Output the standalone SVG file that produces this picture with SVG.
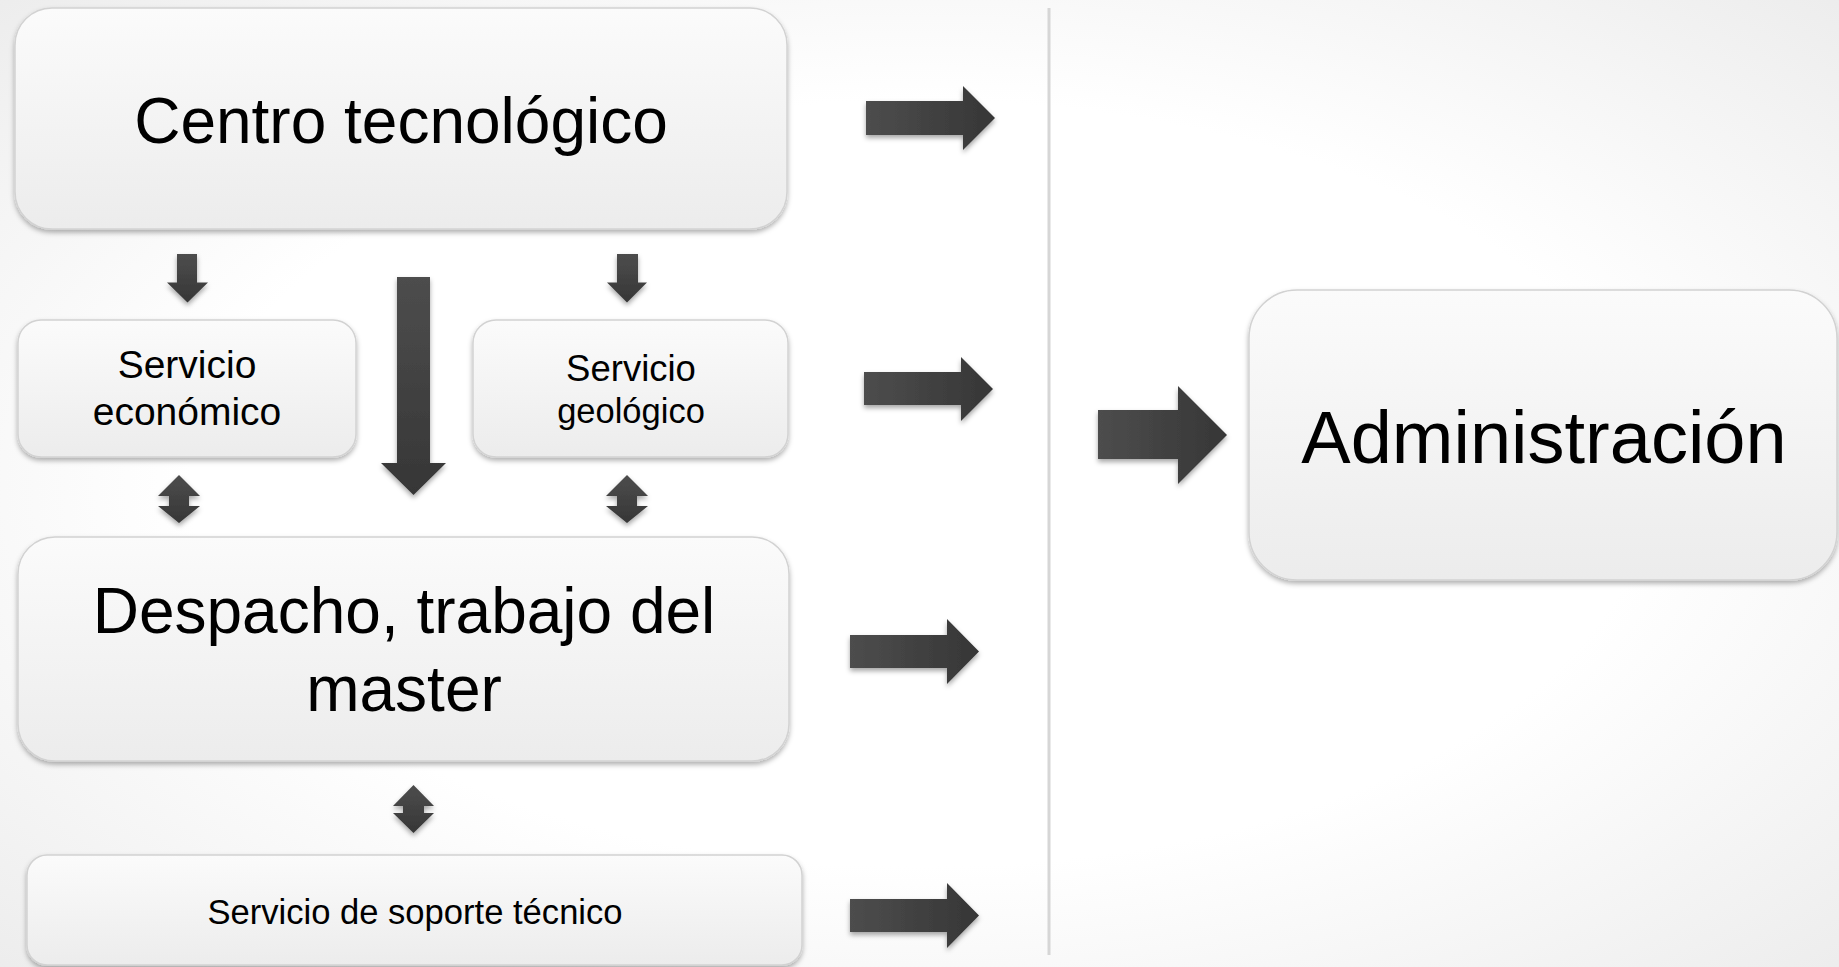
<svg xmlns="http://www.w3.org/2000/svg" width="1839" height="967" viewBox="0 0 1839 967">
<defs>
<radialGradient id="bg" cx="0.5" cy="0.5" r="0.72" gradientUnits="objectBoundingBox">
<stop offset="0.55" stop-color="#ffffff"/>
<stop offset="1" stop-color="#ececec"/>
</radialGradient>
<linearGradient id="nodefill" x1="0" y1="0" x2="0" y2="1">
<stop offset="0" stop-color="#fbfbfb"/>
<stop offset="1" stop-color="#ececec"/>
</linearGradient>
<linearGradient id="arrH" x1="0" y1="0" x2="1" y2="0">
<stop offset="0" stop-color="#4d4d4d"/>
<stop offset="1" stop-color="#363636"/>
</linearGradient>
<linearGradient id="arrV" x1="0" y1="0" x2="0" y2="1">
<stop offset="0" stop-color="#4d4d4d"/>
<stop offset="1" stop-color="#363636"/>
</linearGradient>
<filter id="sh" x="-20%" y="-20%" width="140%" height="150%">
<feDropShadow dx="0" dy="3" stdDeviation="2.5" flood-color="#000" flood-opacity="0.3"/>
</filter>
<filter id="ash" x="-20%" y="-20%" width="140%" height="150%">
<feDropShadow dx="0" dy="3" stdDeviation="2.5" flood-color="#000" flood-opacity="0.35"/>
</filter>
</defs>
<style>
.node rect { fill: url(#nodefill); stroke: #d2d2d2; stroke-width: 1.5; filter: url(#sh); }
.node text { font-family: "Liberation Sans", Arial, sans-serif; fill: #000; text-anchor: middle; }
.ah { fill: url(#arrH); filter: url(#ash); }
.av { fill: url(#arrV); filter: url(#ash); }
</style>
<rect x="0" y="0" width="1839" height="967" fill="url(#bg)"/>
<line x1="1049" y1="8" x2="1049" y2="955" stroke="#d6d6d6" stroke-width="3"/>

<g id="centro" class="node">
<rect x="15" y="8" width="772" height="221" rx="37" ry="37"/>
<text x="401" y="143" font-size="64">Centro tecnológico</text>
</g>
<g id="economico" class="node">
<rect x="18" y="320" width="338" height="137" rx="23" ry="23"/>
<text x="187" y="378" font-size="39">Servicio</text>
<text x="187" y="425" font-size="39">económico</text>
</g>
<g id="geologico" class="node">
<rect x="473" y="320" width="315" height="137" rx="23" ry="23"/>
<text x="631" y="381" font-size="36.5">Servicio</text>
<text x="631" y="423" font-size="34.5">geológico</text>
</g>
<g id="despacho" class="node">
<rect x="18" y="537" width="771" height="224" rx="37" ry="37"/>
<text x="404" y="633" font-size="64">Despacho, trabajo del</text>
<text x="404" y="711" font-size="64">master</text>
</g>
<g id="soporte" class="node">
<rect x="27" y="855" width="775" height="110" rx="20" ry="20"/>
<text x="415" y="924" font-size="34.6">Servicio de soporte técnico</text>
</g>
<g id="administracion" class="node">
<rect x="1249" y="290" width="588" height="290" rx="48" ry="48"/>
<text x="1544" y="463" font-size="74">Administración</text>
</g>

<g id="connectors">
<path class="ah" d="M866,101 H963 V86 L995,118 L963,150 V135 H866 Z"/>
<path class="ah" d="M864,372 H961 V357 L993,389 L961,421 V405 H864 Z"/>
<path class="ah" d="M850,635 H947 V619 L979,651.5 L947,684 V668 H850 Z"/>
<path class="ah" d="M850,899 H947 V883 L979,915.5 L947,948 V932 H850 Z"/>
<path class="ah" d="M1098,410 H1178 V386 L1227,435 L1178,484 V459 H1098 Z"/>
<path class="av" d="M177,254 H197 V282.5 H208 L187.5,302.5 L167,282.5 H177 Z"/>
<path class="av" d="M617,254 H638 V282.5 H647 L627,302.5 L607,282.5 H617 Z"/>
<path class="av" d="M397,277 H430 V463 H446 L413.5,495 L381,463 H397 Z"/>
<path class="av" d="M179,475 L200,496 H189 V506 H200 L179,523 L158,506 H169 V496 H158 Z"/>
<path class="av" d="M627,475 L648,496 H637 V506 H648 L627,523 L606,506 H617 V496 H606 Z"/>
<path class="av" d="M413.5,785 L434,806 H424 V813 H434 L413.5,833 L393,813 H403 V806 H393 Z"/>
</g>
</svg>
